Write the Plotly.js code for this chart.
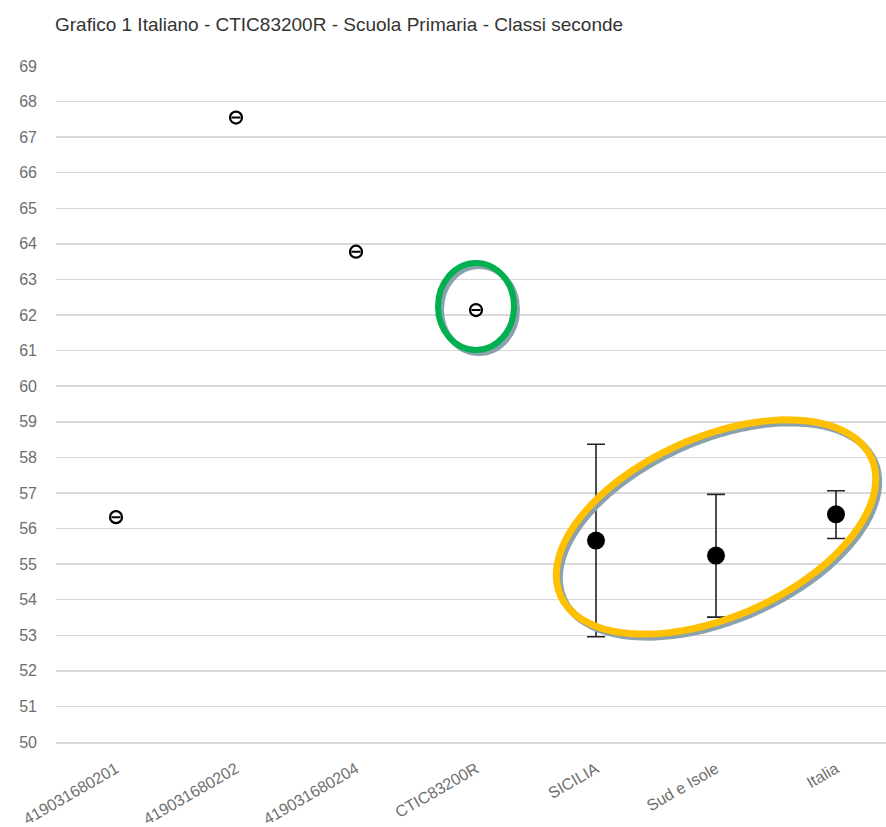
<!DOCTYPE html>
<html>
<head>
<meta charset="utf-8">
<script src="https://cdn.plot.ly/plotly-3.0.1.min.js"></script>
<style>html,body{margin:0;padding:0;background:#fff;overflow:hidden}</style>
</head>
<body>
<div id="chart" style="width:886px;height:827px"></div>
<script>
// ---- data ----
const classCategories = ["419031680201", "419031680202", "419031680204", "CTIC83200R"];
const classValues = [56.32, 67.55, 63.78, 62.14];
const refCategories = ["SICILIA", "Sud e Isole", "Italia"];
const refValues = [55.66, 55.24, 56.40];
const refUpper = [58.37, 56.96, 57.06];
const refLower = [52.96, 53.51, 55.72];
const allCategories = classCategories.concat(refCategories);
const yTicks = [50,51,52,53,54,55,56,57,58,59,60,61,62,63,64,65,66,67,68,69];

const W = 886, H = 827, ML = 56, MR = 0, MT = 66, MB = 85;
const PW = W - ML - MR, PH = H - MT - MB;

// rotated ellipse outline (annotation), in paper coordinates
function ellipsePath(cx, cy, a, b, angDeg) {
  const t = angDeg * Math.PI / 180;
  const pts = [];
  const N = 90;
  for (let i = 0; i < N; i++) {
    const s = 2 * Math.PI * i / N;
    const ex = a * Math.cos(s), ey = b * Math.sin(s);
    const rx = cx + ex * Math.cos(t) - ey * Math.sin(t);
    const ry = cy - (ex * Math.sin(t) + ey * Math.cos(t));
    pts.push([(rx - ML) / PW, (MT + PH - ry) / PH]);
  }
  return "M" + pts.map(p => p[0].toFixed(5) + "," + p[1].toFixed(5)).join(" L") + " Z";
}

const traces = [
  {
    type: "scatter", mode: "markers",
    x: classCategories, y: classValues,
    marker: {symbol: "circle-open", size: 12, color: "#000", line: {width: 2.2, color: "#000"}},
    error_y: {type: "data", array: classValues.map(() => 0), visible: true, width: 4.5, thickness: 2, color: "#000"},
    cliponaxis: false, showlegend: false, hoverinfo: "x+y"
  },
  {
    type: "scatter", mode: "markers",
    x: refCategories, y: refValues,
    marker: {symbol: "circle", size: 18, color: "#000"},
    error_y: {
      type: "data", symmetric: false, visible: true,
      array: refUpper.map((u, i) => u - refValues[i]),
      arrayminus: refLower.map((l, i) => refValues[i] - l),
      width: 9, thickness: 1.6, color: "#222"
    },
    showlegend: false, hoverinfo: "x+y"
  }
];

const shadow = "#8aa2ad";
const layout = {
  width: W, height: H,
  margin: {l: ML, r: MR, t: MT, b: MB, pad: 0},
  paper_bgcolor: "#fff", plot_bgcolor: "#fff",
  font: {family: "Liberation Sans, Arial, sans-serif", color: "#666"},
  title: {
    text: "Grafico 1 Italiano - CTIC83200R - Scuola Primaria - Classi seconde",
    font: {family: "Liberation Sans, Arial, sans-serif", size: 19, color: "#333"},
    xref: "container", yref: "container", x: 55 / W, xanchor: "left", y: 1 - 24 / H, yanchor: "middle"
  },
  xaxis: {
    type: "category", categoryorder: "array", categoryarray: allCategories,
    range: [-0.5, -0.5 + PW / 120],
    showgrid: false, zeroline: false, showline: true, linecolor: "#d9d9d9", linewidth: 1.5,
    tickangle: -30, tickfont: {size: 16, color: "#6e6e6e"}, ticks: "", ticklabelstandoff: 10, fixedrange: true
  },
  yaxis: {
    range: [50, 69], tickvals: yTicks, ticktext: yTicks.map(String),
    showgrid: true, gridcolor: "#d9d9d9", gridwidth: 1.5, zeroline: false, showline: false,
    ticks: "", ticklabelstandoff: 18, tickfont: {size: 16, color: "#6e6e6e"}, fixedrange: true
  },
  shapes: [
    {type: "circle", xref: "paper", yref: "paper",
     x0: (438 + 3 - ML) / PW, x1: (514 + 3 - ML) / PW, y0: (MT + PH - (263 + 3)) / PH, y1: (MT + PH - (350 + 3)) / PH,
     line: {color: shadow, width: 6}},
    {type: "circle", xref: "paper", yref: "paper",
     x0: (438 - ML) / PW, x1: (514 - ML) / PW, y0: (MT + PH - 263) / PH, y1: (MT + PH - 350) / PH,
     line: {color: "#00b050", width: 6}},
    {type: "path", xref: "paper", yref: "paper", path: ellipsePath(716 + 3, 527 + 3, 170, 90, 23.8),
     line: {color: shadow, width: 7}},
    {type: "path", xref: "paper", yref: "paper", path: ellipsePath(716, 527, 170, 90, 23.8),
     line: {color: "#ffc000", width: 7}}
  ]
};

Plotly.newPlot("chart", traces, layout, {displayModeBar: false, staticPlot: true});
</script>
</body>
</html>
